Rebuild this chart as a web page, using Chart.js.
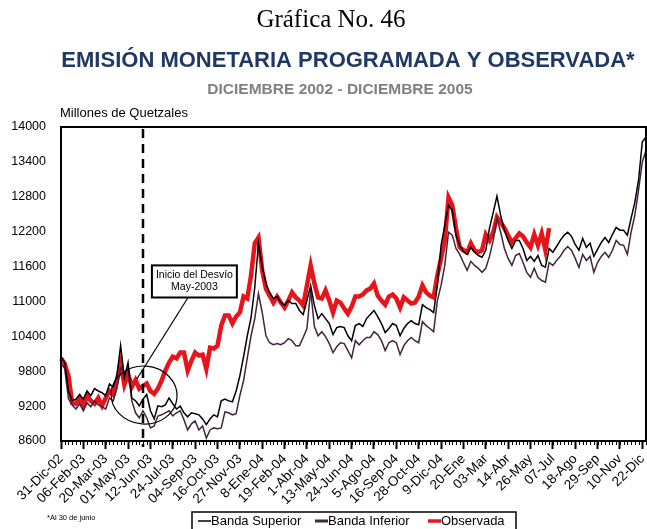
<!DOCTYPE html>
<html lang="es">
<head>
<meta charset="utf-8">
<title>Emisión monetaria programada y observada</title>
<script src="https://cdn.jsdelivr.net/npm/chart.js@4.4.1/dist/chart.umd.min.js"></script>
<style>
  html, body { margin: 0; padding: 0; background: #fff; }
  #wrap { width: 647px; height: 529px; }
</style>
</head>
<body>
<div id="wrap"><canvas id="grafica" width="647" height="529"></canvas></div>
<script>
// Etiquetas del eje (una cada seis semanas)
const etiquetas = [
  "31-Dic-02", "06-Feb-03", "20-Mar-03", "01-May-03", "12-Jun-03", "24-Jul-03",
  "04-Sep-03", "16-Oct-03", "27-Nov-03", "8-Ene-04", "19-Feb-04", "1-Abr-04",
  "13-May-04", "24-Jun-04", "5-Ago-04", "16-Sep-04", "28-Oct-04", "9-Dic-04",
  "20-Ene", "03-Mar", "14-Abr", "26-May", "07-Jul", "18-Ago", "29-Sep", "10-Nov", "22-Dic"
];

// Millones de quetzales, datos semanales
const superior = [
  10050, 9950, 9460, 9290, 9320, 9400, 9320, 9460, 9380, 9500,
  9460, 9430, 9380, 9580, 9530, 9720, 10240, 9690, 9950, 9340,
  9290, 9205, 9320, 9400, 9120, 8980, 9205, 9190, 9220, 9340,
  9240, 9150, 9200, 9085, 9015, 9085, 9070, 9050, 8980, 8880,
  8980, 9050, 9015, 9290, 9320, 9290, 9275, 9460, 9720, 10050,
  10410, 10720, 11240, 12000, 11600, 11310, 11155, 11050, 11085, 10980,
  10930, 11015, 10965, 10965, 10845, 10775, 11015, 11275, 10930, 10705,
  10790, 10705, 10620, 10430, 10550, 10570, 10550, 10410, 10325, 10585,
  10620, 10570, 10705, 10775, 10845, 10740, 10620, 10465, 10535, 10620,
  10585, 10410, 10535, 10620, 10670, 10620, 10600, 10945, 10895, 10860,
  10810, 11275, 11965, 12310, 12655, 12570, 12140, 11965, 11860, 11810,
  11930, 11845, 11790, 11760, 11880, 12260, 12530, 12810, 12480, 12225,
  12050, 11910, 12050, 12050, 11910, 11705, 11775, 11690, 11790, 11620,
  11590, 11910, 11845, 11945, 12050, 12137, 12190, 12120, 11980, 11880,
  12085, 11930, 12000, 11775, 11895, 12015, 12100, 12015, 12155, 12275,
  12225, 12225, 12140, 12430, 12705, 13085, 13740, 13830
];

const inferior = [
  9930, 9845, 9325, 9220, 9150, 9240, 9120, 9255, 9190, 9290,
  9220, 9190, 9150, 9340, 9290, 9500, 9860, 9775, 9845, 9290,
  9085, 9000, 9120, 9000, 8825, 8860, 9030, 9050, 9085, 9120,
  9030, 9085, 9120, 8965, 8790, 8895, 8945, 8790, 8860, 8650,
  8790, 8825, 8810, 8825, 9100, 9085, 9050, 9070, 9380, 9640,
  10030, 10410, 10705, 11135, 10810, 10410, 10290, 10255, 10275, 10255,
  10290, 10360, 10325, 10240, 10240, 10380, 10535, 11190, 10570, 10410,
  10480, 10395, 10275, 10120, 10220, 10290, 10275, 10155, 10030, 10325,
  10255, 10325, 10380, 10380, 10480, 10430, 10325, 10155, 10290, 10325,
  10290, 10085, 10240, 10325, 10380, 10325, 10290, 10655, 10585, 10535,
  10480, 11015, 11275, 11620, 12190, 12140, 11910, 11810, 11670, 11535,
  11690, 11620, 11570, 11500, 11570, 11775, 12050, 12430, 12190, 11910,
  11740, 11620, 11790, 11825, 11670, 11500, 11415, 11570, 11415, 11360,
  11330, 11670, 11620, 11705, 11775, 11880, 11945, 11880, 11740, 11585,
  11810, 11705, 11775, 11500, 11670, 11775, 11845, 11760, 11880, 12050,
  11980, 11965, 11810, 12190, 12480, 12915, 13395, 13600
];

// Observada hasta el 30 de junio de 2005
const observada = [
  10020, 9930, 9720, 9255, 9240, 9340, 9200, 9380, 9290, 9240,
  9340, 9205, 9340, 9460, 9400, 9640, 9930, 9570, 9760, 9530,
  9650, 9500, 9550, 9590, 9460, 9410, 9500, 9640, 9810, 9950,
  10050, 10020, 10120, 10120, 9810, 9980, 10120, 10070, 10085, 9840,
  10205, 10190, 10240, 10585, 10760, 10760, 10620, 10740, 10810, 11085,
  11050, 11447, 12000, 12100, 11530, 11220, 11100, 10980, 11085, 10980,
  10895, 11015, 11155, 11070, 11015, 10930, 11275, 11620, 11310, 11070,
  11050, 11190, 11015, 10810, 11015, 10980, 10880, 10790, 10910, 11085,
  11085, 11120, 11190, 11220, 11310, 11100, 11015, 10945, 11085, 11120,
  11050, 10895, 11070, 11015, 10965, 10980, 11085, 11275, 11155, 11100,
  11070, 11447, 11740, 12050, 12790, 12655, 12260, 11930, 11880, 11845,
  12000, 11880, 11845, 11880, 12155, 12050, 12190, 12450, 12360, 12260,
  12137, 12015, 12085, 12170, 12120, 12015, 11930, 12155, 11965, 12170,
  11880, 12260
];

const semanaDesvio = 22; // inicio del desvío, mayo 2003

const semanas = superior.map((_, i) => (i % 6 === 0 ? etiquetas[i / 6] : ""));

const fuente = "'Liberation Sans', Arial, sans-serif";
Chart.defaults.font.family = fuente;
Chart.defaults.color = "#000";

// Títulos, marco, anotación y leyenda
const decoracion = {
  id: "decoracion",
  afterDatasetsDraw(chart) {
    const { ctx, chartArea: a, scales: { x, y } } = chart;
    ctx.save();

    // línea punteada del inicio del desvío
    const xd = Math.round(x.getPixelForValue(semanaDesvio));
    ctx.strokeStyle = "#000";
    ctx.lineWidth = 2.5;
    ctx.setLineDash([9, 6]);
    ctx.beginPath();
    ctx.moveTo(xd, a.top + 2);
    ctx.lineTo(xd, a.bottom + 6);
    ctx.stroke();
    ctx.setLineDash([]);

    // elipse alrededor del desvío
    ctx.lineWidth = 1.2;
    ctx.beginPath();
    ctx.ellipse(x.getPixelForValue(22.3), y.getPixelForValue(9390),
      33, 29, 0.08, 0, Math.PI * 2);
    ctx.stroke();

    // recuadro con el texto
    const bx1 = x.getPixelForValue(24.4), bx2 = x.getPixelForValue(47.2);
    const by1 = y.getPixelForValue(11620), by2 = y.getPixelForValue(11068);
    ctx.lineWidth = 1.2;
    ctx.beginPath();
    ctx.moveTo(x.getPixelForValue(34.1), by2);
    ctx.lineTo(x.getPixelForValue(20.4), y.getPixelForValue(9670));
    ctx.stroke();
    ctx.fillStyle = "#fff";
    ctx.fillRect(bx1, by1, bx2 - bx1, by2 - by1);
    ctx.lineWidth = 2;
    ctx.strokeRect(bx1, by1, bx2 - bx1, by2 - by1);
    ctx.fillStyle = "#000";
    ctx.font = "10.5px 'Liberation Sans Narrow', 'Liberation Sans', sans-serif";
    ctx.textAlign = "center";
    ctx.textBaseline = "middle";
    const cx = (bx1 + bx2) / 2;
    ctx.fillText("Inicio del Desvío", cx, by1 + 10);
    ctx.fillText("May-2003", cx, by1 + 22);
    ctx.restore();
  },
  afterDraw(chart) {
    const { ctx, chartArea: a, scales: { x } } = chart;
    ctx.save();

    // marco del área de trazado
    ctx.strokeStyle = "#000";
    ctx.lineWidth = 2;
    ctx.strokeRect(a.left, a.top, a.right - a.left, a.bottom - a.top);

    // marcas menores del eje horizontal
    ctx.lineWidth = 1;
    ctx.beginPath();
    semanas.forEach((_, i) => {
      const px = Math.round(x.getPixelForValue(i)) + 0.5;
      ctx.moveTo(px, a.bottom);
      ctx.lineTo(px, a.bottom + 4);
    });
    ctx.stroke();

    // títulos
    ctx.textAlign = "center";
    ctx.textBaseline = "middle";
    ctx.fillStyle = "#000";
    ctx.font = "25px 'Liberation Serif', 'Times New Roman', serif";
    ctx.fillText("Gráfica No. 46", 331, 20);
    ctx.fillStyle = "#1f3864";
    ctx.font = "bold 22px " + fuente;
    ctx.fillText("EMISIÓN MONETARIA PROGRAMADA Y OBSERVADA*", 348, 61);
    ctx.fillStyle = "#808080";
    ctx.font = "bold 15.5px " + fuente;
    ctx.fillText("DICIEMBRE 2002 - DICIEMBRE 2005", 340, 90);

    ctx.textAlign = "left";
    ctx.fillStyle = "#000";
    ctx.font = "13px " + fuente;
    ctx.fillText("Millones de Quetzales", 60, 113);

    ctx.font = "7.5px " + fuente;
    ctx.fillText("*Al 30 de junio", 47, 518);

    // leyenda
    ctx.lineWidth = 1.5;
    ctx.strokeRect(192, 512, 324, 24);
    const items = [
      { ds: chart.data.datasets[0], x: 198 },
      { ds: chart.data.datasets[1], x: 315 },
      { ds: chart.data.datasets[2], x: 428 }
    ];
    ctx.font = "13px " + fuente;
    items.forEach(it => {
      ctx.strokeStyle = it.ds.borderColor;
      ctx.lineWidth = it.ds.legendWidth;
      ctx.beginPath();
      ctx.moveTo(it.x, 521);
      ctx.lineTo(it.x + 13, 521);
      ctx.stroke();
      ctx.fillStyle = "#000";
      ctx.fillText(it.ds.label, it.x + 13, 521);
    });
    ctx.restore();
  }
};

new Chart(document.getElementById("grafica"), {
  type: "line",
  data: {
    labels: semanas,
    datasets: [
      {
        label: "Banda Superior",
        data: superior,
        borderColor: "#000000",
        borderWidth: 1.5,
        legendWidth: 1.5,
        order: 0
      },
      {
        label: "Banda Inferior",
        data: inferior,
        borderColor: "#46243a",
        borderWidth: 1.5,
        legendWidth: 3,
        order: 1
      },
      {
        label: "Observada",
        data: observada,
        borderColor: "#e8141c",
        borderWidth: 4.5,
        legendWidth: 3.5,
        order: 2
      }
    ]
  },
  options: {
    responsive: false,
    animation: false,
    devicePixelRatio: 1,
    layout: { padding: { left: 0, right: 1, top: 127, bottom: 0 } },
    elements: {
      point: { radius: 0 },
      line: { tension: 0, borderJoinStyle: "miter", fill: false }
    },
    plugins: {
      legend: { display: false },
      title: { display: false },
      tooltip: { enabled: false }
    },
    scales: {
      x: {
        type: "category",
        grid: {
          drawOnChartArea: false,
          tickLength: 8,
          tickWidth: 2,
          tickColor: c => (c.index % 6 === 0 ? "#000" : "rgba(0,0,0,0)")
        },
        border: { color: "#000", width: 2 },
        ticks: {
          autoSkip: false,
          maxRotation: 45,
          minRotation: 45,
          padding: 2,
          font: { size: 13.5 },
          color: "#000"
        },
        afterFit(scale) {
          scale.height = 88;
          scale.paddingLeft = 0;
          scale.paddingRight = 0;
        }
      },
      y: {
        min: 8600,
        max: 14000,
        grid: { display: false, drawTicks: false },
        border: { color: "#000", width: 2 },
        ticks: {
          stepSize: 600,
          padding: 15,
          font: { size: 12.5 },
          color: "#000",
          callback: v => String(v)
        },
        afterFit(scale) {
          scale.width = 61;
        }
      }
    }
  },
  plugins: [decoracion]
});
</script>
</body>
</html>
